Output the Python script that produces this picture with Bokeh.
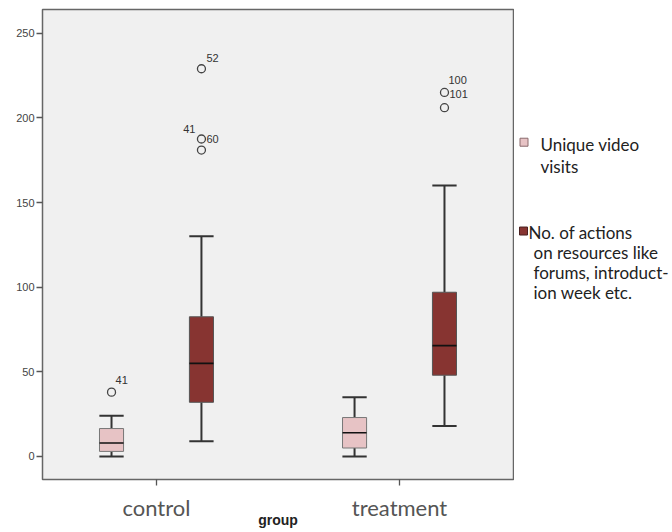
from bokeh.plotting import figure
from bokeh.models import FixedTicker, ColumnDataSource
from bokeh.layouts import row
from bokeh.core.properties import value
from bokeh.embed import file_html
from bokeh.resources import INLINE

# ---------------- data ----------------
groups = ["control", "treatment"]
series_names = ["Unique video\nvisits",
                "No. of actions\non resources like\nforums, introduct-\nion week etc."]

video_low = [0, 0]
video_q1 = [3, 5]
video_median = [8, 14]
video_q3 = [16.5, 23]
video_high = [24, 35]

actions_low = [9, 18]
actions_q1 = [32, 48]
actions_median = [55, 65.5]
actions_q3 = [82.5, 97]
actions_high = [130, 160]

video_out_group = ["control"]
video_out_value = [38]
video_lab_group = ["control"]
video_lab_value = [38]
video_lab_text = ["41"]

actions_out_group = ["control", "control", "control", "treatment", "treatment"]
actions_out_value = [229, 187.5, 181, 215, 206]
actions_lab_group = ["control", "control", "control", "treatment", "treatment"]
actions_lab_value = [229, 187.5, 187.5, 215, 215]
actions_lab_text = ["52", "41", "60", "100", "101"]

yticks = [0, 50, 100, 150, 200, 250]

# ---------------- style ----------------
PINK = "#e7c3c5"
DARK = "#873431"
x_start, x_end = 0.531, 2.469
y_start, y_end = -13.6, 264
H = 530
FRAME_TOP, FRAME_BOTTOM = 9, 480
dodge = 0.185
box_w = 0.099
cap_w = 0.05

p = figure(width=514, height=H, output_backend="svg", toolbar_location=None,
           x_range=(x_start, x_end), y_range=(y_start, y_end),
           min_border_left=42, min_border_right=1, min_border_top=FRAME_TOP,
           min_border_bottom=H - FRAME_BOTTOM)
p.background_fill_color = "#f0f0f0"
p.border_fill_color = "white"
p.outline_line_color = "#666666"
p.outline_line_width = 1.5
p.grid.visible = False

pos = {g: i + 1 for i, g in enumerate(groups)}

def draw_box(off, low, q1, med, q3, high, color, line_col):
    xs = [pos[g] + off for g in groups]
    src = ColumnDataSource(dict(x=xs, low=low, q1=q1, med=med, q3=q3, high=high,
                                cl=[x - cap_w for x in xs], cr=[x + cap_w for x in xs],
                                bl=[x - box_w / 2 for x in xs], br=[x + box_w / 2 for x in xs]))
    p.segment(x0="x", y0="q3", x1="x", y1="high", source=src, line_color="#333333", line_width=2)
    p.segment(x0="x", y0="low", x1="x", y1="q1", source=src, line_color="#333333", line_width=2)
    p.segment(x0="cl", y0="high", x1="cr", y1="high", source=src, line_color="#333333", line_width=2)
    p.segment(x0="cl", y0="low", x1="cr", y1="low", source=src, line_color="#333333", line_width=2)
    p.vbar(x="x", width=box_w, bottom="q1", top="q3", source=src, fill_color=color,
           line_color=line_col, line_width=1)
    p.segment(x0="bl", y0="med", x1="br", y1="med", source=src, line_color="#111111", line_width=1.6)

draw_box(-dodge, video_low, video_q1, video_median, video_q3, video_high, PINK, "#777777")
draw_box(dodge, actions_low, actions_q1, actions_median, actions_q3, actions_high, DARK, "#555555")

p.scatter([pos[g] - dodge for g in video_out_group], video_out_value, size=8,
          fill_color=None, line_color="#444444", line_width=1.3)
p.scatter([pos[g] + dodge for g in actions_out_group], actions_out_value, size=8,
          fill_color=None, line_color="#444444", line_width=1.3)

# outlier labels
vid_off = dict(xo=[4], yo=[-12], al=["left"])
act_off = dict(xo=[5, -6, 5, 4, 5], yo=[-11, -10, 0, -12, 2],
               al=["left", "right", "left", "left", "left"])
src_vl = ColumnDataSource(dict(x=[pos[g] - dodge for g in video_lab_group], y=video_lab_value,
                               t=video_lab_text, xo=vid_off["xo"], yo=vid_off["yo"], al=vid_off["al"]))
src_al = ColumnDataSource(dict(x=[pos[g] + dodge for g in actions_lab_group], y=actions_lab_value,
                               t=actions_lab_text, xo=act_off["xo"], yo=act_off["yo"], al=act_off["al"]))
for s in (src_vl, src_al):
    p.text(x="x", y="y", text="t", x_offset="xo", y_offset="yo", text_align="al", source=s,
           text_baseline="middle", text_font=value("Liberation Sans"), text_font_size="11px",
           text_color="#333333")

# axes
p.xaxis.ticker = FixedTicker(ticks=[pos[g] for g in groups])
p.xaxis.major_label_overrides = {pos[g]: g for g in groups}
p.xaxis.major_label_text_font = "Lato"
p.xaxis.major_label_text_font_size = "22px"
p.xaxis.major_label_text_color = "#555555"
p.xaxis.axis_label = "group"
p.xaxis.axis_label_text_font = "Liberation Sans"
p.xaxis.axis_label_text_font_style = "bold"
p.xaxis.axis_label_text_font_size = "14px"
p.xaxis.axis_label_text_color = "#222222"
p.xaxis.axis_label_standoff = -12
p.xaxis.major_label_standoff = 8

p.yaxis.ticker = FixedTicker(ticks=yticks)
p.yaxis.major_label_text_font = "Liberation Sans"
p.yaxis.major_label_text_font_size = "11px"
p.yaxis.major_label_text_color = "#444444"
p.yaxis.major_label_standoff = 2

for ax in (p.xaxis, p.yaxis):
    ax.axis_line_color = None
    ax.major_tick_line_color = "#555555"
    ax.major_tick_line_width = 1.3
    ax.major_tick_in = 0
    ax.major_tick_out = 6
    ax.minor_tick_line_color = None

# ---------------- legend panel (separate figure, pixel coordinates) ----------------
# In a row the plot frames are aligned, so this frame spans FRAME_TOP..FRAME_BOTTOM.
LW = 158
lg = figure(width=LW, height=H, output_backend="svg", toolbar_location=None,
            x_range=(514, 514 + LW), y_range=(FRAME_BOTTOM, FRAME_TOP), min_border=0,
            x_axis_location=None, y_axis_location=None)
lg.grid.visible = False
lg.outline_line_color = None
lg.background_fill_color = "white"
lg.border_fill_color = "white"

swatch_colors = [PINK, DARK]
swatch_lines = ["#8a6a6c", "#4a2020"]
swatch_xy = [(523.5, 142), (523, 231)]
text_xy = [[(540, 144), (540, 166)],
           [(528, 232), (533, 253), (533, 273), (533, 293)]]

lg.rect(x=[a for a, b in swatch_xy], y=[b for a, b in swatch_xy], width=8, height=8,
        fill_color=swatch_colors, line_color=swatch_lines, line_width=1)
tx, ty, tt = [], [], []
for name, coords in zip(series_names, text_xy):
    for line, (a, b) in zip(name.split("\n"), coords):
        tx.append(a); ty.append(b); tt.append(line)
lg.text(x=tx, y=ty, text=tt, text_font=value("Lato"), text_font_size="17px",
        text_baseline="middle", text_align="left", text_color="#222222")

layout = row(p, lg, spacing=0)
open("out.html", "w").write(file_html(layout, INLINE))
